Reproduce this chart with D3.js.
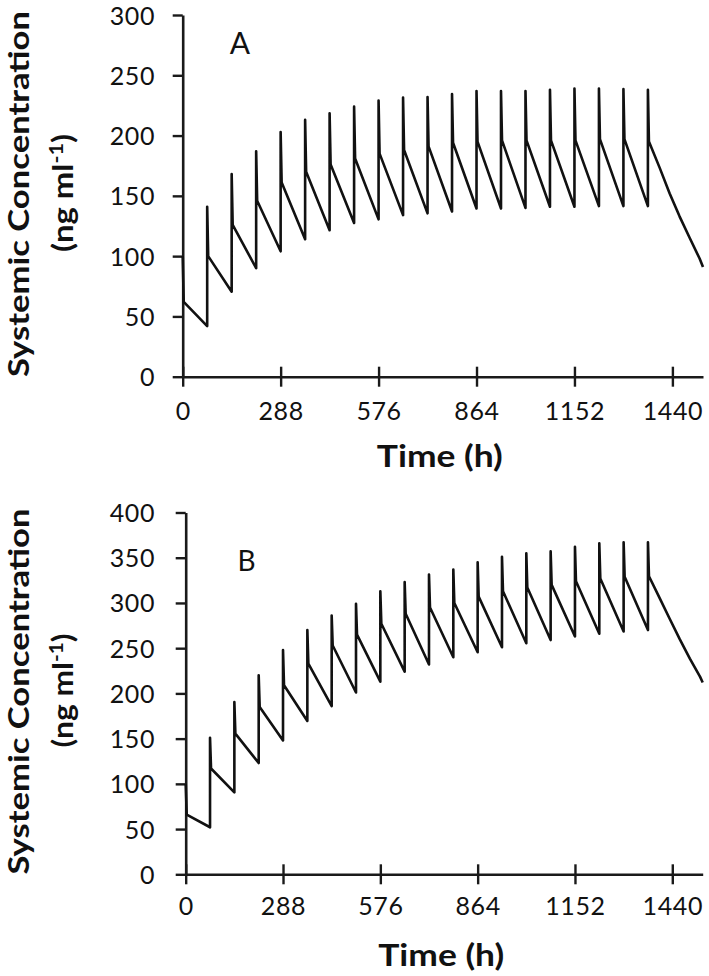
<!DOCTYPE html>
<html><head><meta charset="utf-8">
<script src="https://cdn.jsdelivr.net/npm/d3@7"></script>
<style>body{margin:0;background:#fff;} svg{display:block;}</style>
</head><body>
<svg id="chart" width="709" height="976"></svg>
<script>
// ---------- data ----------
const doseTimes = [0,72,144,216,288,360,432,504,576,648,720,792,864,936,1008,1080,1152,1224,1296,1368];
const xTicks = [0,288,576,864,1152,1440];
const yTicksA = [0,50,100,150,200,250,300];
const yTicksB = [0,50,100,150,200,250,300,350,400];

// Panel A
const peaksA   = [100,141,168,187,203,213,218.5,224,229,231.5,232,234.5,237,237,237,238,239,239,238.5,238];
const kneesA   = [62,100,126,146,161,170,176,181,185,188,191,194,195,196,196,196,196,197,197,195];
const troughsA = [42,70.5,90,104,114,121.5,127.5,130.5,134,135.5,137,139.5,139.5,140,141,141,141.5,141.5,141.5];
const tailTimesA  = [1403,1432,1461,1491,1520,1530];
const tailValuesA = [173,152,133,115,98,91];

// Panel B
const peaksB   = [100,151,190.5,220,248,270,286,299,313,323,331.5,337,345,351,355,357,362,366,367,367];
const kneesB   = [66,117,155.5,185,209,233,253,265,277,288,295,300,307,313,317,320,324,327,329,329.5];
const troughsB = [52,90.5,123,148,169.5,186,201,213,224,232,240,245.5,251,255.5,259,263,266,268.5,270];
const tailTimesB  = [1403,1433,1462,1492,1522,1530];
const tailValuesB = [305,282,260,238.5,218.5,212];

// ---------- drawing ----------
const svg = d3.select("#chart");
svg.append("rect").attr("width",709).attr("height",976).attr("fill","#fff");
const FONT = "Lato, 'Open Sans', sans-serif";
const INK = "#1a1a1a";
const kneeOffset = 3;

function buildSeries(peaks, knees, troughs, tailT, tailV) {
  const pts = [];
  doseTimes.forEach((t, i) => {
    if (i > 0) pts.push([t, troughs[i-1]]);
    pts.push([t, peaks[i]]);
    pts.push([t + kneeOffset, knees[i]]);
  });
  tailT.forEach((t, i) => pts.push([t, tailV[i]]));
  return pts;
}

function panel(cfg) {
  const x = d3.scaleLinear().domain([0, 1530]).range([cfg.x0, cfg.x1]);
  const y = d3.scaleLinear().domain([0, cfg.yMax]).range([cfg.y0, cfg.y1]);
  const g = svg.append("g");

  // y axis
  const gy = g.append("g").attr("transform", `translate(${cfg.x0},0)`)
    .call(d3.axisLeft(y).tickValues(cfg.yTicks).tickFormat(d3.format("d"))
      .tickSizeInner(10).tickSizeOuter(0).tickPadding(18));
  gy.select(".domain").attr("stroke", INK).attr("stroke-width", 2.6);
  gy.selectAll(".tick line").attr("stroke", INK).attr("stroke-width", 2.4);
  gy.selectAll(".tick text").attr("x", 155 - cfg.x0).attr("dy", "0.36em")
    .attr("font-family", FONT).attr("font-size", 25).attr("letter-spacing", 0.6).attr("fill", "#111");

  // x axis with crossing ticks
  const gx = g.append("g").attr("transform", `translate(0,${cfg.y0})`)
    .call(d3.axisBottom(x).tickValues(xTicks).tickFormat(d3.format("d"))
      .tickSizeInner(0).tickSizeOuter(0));
  gx.select(".domain").attr("stroke", INK).attr("stroke-width", 2.6);
  gx.selectAll(".tick line").attr("y1", -10).attr("y2", 10).attr("stroke", INK).attr("stroke-width", 2.4);
  gx.selectAll(".tick text").attr("y", cfg.xLabelY).attr("dy", null)
    .attr("font-family", FONT).attr("font-size", 25).attr("letter-spacing", 0.6).attr("fill", "#111");

  // curve
  const pts = buildSeries(cfg.peaks, cfg.knees, cfg.troughs, cfg.tailT, cfg.tailV);
  g.append("path").datum(pts)
    .attr("fill", "none").attr("stroke", "#111").attr("stroke-width", 2.6)
    .attr("stroke-linejoin", "round")
    .attr("d", d3.line().x(d => x(d[0])).y(d => y(d[1])));

  // panel letter
  g.append("text").attr("x", cfg.letterX).attr("y", cfg.letterY)
    .attr("text-anchor", "middle").attr("font-family", FONT).attr("font-size", cfg.letterSize)
    .attr("fill", "#111").text(cfg.letter);

  // x title
  g.append("text").attr("x", (cfg.x0 + cfg.x1) / 2 - 3).attr("y", cfg.xTitleY)
    .attr("text-anchor", "middle").attr("font-family", FONT).attr("font-weight", 700)
    .attr("font-size", 30).attr("fill", "#111")
    .attr("textLength", 126).attr("lengthAdjust", "spacingAndGlyphs")
    .text("Time (h)");

  // y title (two lines)
  g.append("text").attr("transform", `translate(28.5,${cfg.yTitleC}) rotate(-90)`)
    .attr("text-anchor", "middle").attr("font-family", FONT).attr("font-weight", 700)
    .attr("font-size", 29).attr("fill", "#111")
    .attr("textLength", cfg.yTitleLen).attr("lengthAdjust", "spacingAndGlyphs")
    .text("Systemic Concentration");
  const t2 = g.append("text").attr("transform", `translate(73,${cfg.yTitleC - 1}) rotate(-90)`)
    .attr("text-anchor", "middle").attr("font-family", FONT).attr("font-weight", 700)
    .attr("font-size", 29).attr("fill", "#111")
    .attr("textLength", cfg.unitLen).attr("lengthAdjust", "spacingAndGlyphs");
  t2.append("tspan").text("(ng ml");
  t2.append("tspan").attr("font-size", 19).attr("dy", -10).text("-1");
  t2.append("tspan").attr("dy", 10).text(")");
}

panel({x0:182.7, x1:703, y0:376.7, y1:15, yMax:300, yTicks:yTicksA,
       peaks:peaksA, knees:kneesA, troughs:troughsA, tailT:tailTimesA, tailV:tailValuesA,
       xLabelY:43, xTitleY:467, letter:"A", letterX:240, letterY:54, letterSize:30,
       yTitleC:194, yTitleLen:366, unitLen:118});
panel({x0:185.7, x1:702.7, y0:874.3, y1:512.5, yMax:400, yTicks:yTicksB,
       peaks:peaksB, knees:kneesB, troughs:troughsB, tailT:tailTimesB, tailV:tailValuesB,
       xLabelY:41, xTitleY:966, letter:"B", letterX:246.5, letterY:570.5, letterSize:28,
       yTitleC:691.5, yTitleLen:366, unitLen:114});
</script>
</body></html>
